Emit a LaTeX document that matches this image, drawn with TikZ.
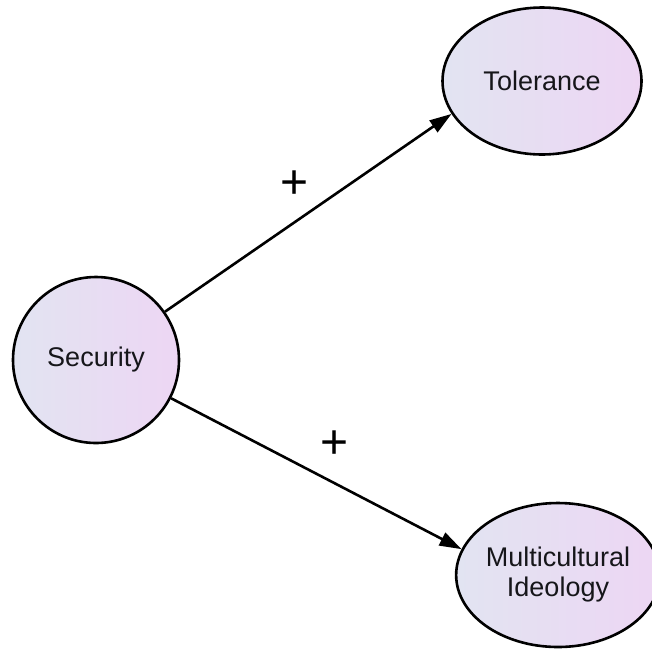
\documentclass[tikz,border=0pt]{standalone}
\usepackage{fontspec}
\setmainfont{Liberation Sans}
\usetikzlibrary{arrows.meta,shapes.geometric}
\definecolor{fillL}{RGB}{226,228,242}
\definecolor{fillR}{RGB}{237,214,243}
\definecolor{ink}{RGB}{22,22,26}
\tikzset{
  concept/.style={draw=black, line width=2.6pt, inner sep=0pt,
    left color=fillL, right color=fillR, text=ink,
    font=\fontsize{27}{30}\selectfont, align=center},
  oval/.style={concept, ellipse},
  round/.style={concept, circle},
  link/.style={line width=2.6pt, draw=black,
    -{Triangle[length=22pt,width=14pt]}},
  sign/.style={font=\fontsize{48}{48}\selectfont, text=black, inner sep=0pt}
}
\begin{document}
\begin{tikzpicture}[x=1pt, y=-1pt]
  \useasboundingbox (0,0) rectangle (652,649);
  % constructs
  \node[round, minimum size=166pt] (sec) at (96,360) {Security};
  \node[oval, minimum width=199pt, minimum height=147pt] (tol) at (542,81) {Tolerance};
  \node[oval, minimum width=192pt, minimum height=144pt] (mci) at (558,575) {Multicultural\\Ideology};
  % paths
  \draw[link] (sec.35) -- (tol.200);
  \draw[link] (sec.-27) -- (mci.165);
  % signs of the paths
  \node[sign] (s1) at (295,185) {+};
  \node[sign] (s2) at (335,445) {+};
\end{tikzpicture}
\end{document}
